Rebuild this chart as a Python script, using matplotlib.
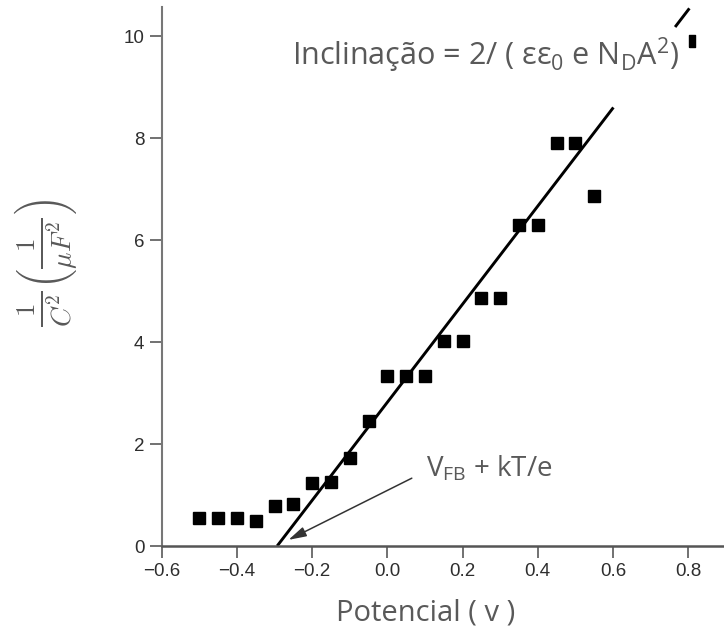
import matplotlib
matplotlib.use("Agg")
import matplotlib.pyplot as plt

plt.rcParams['font.family'] = ['Liberation Sans', 'DejaVu Sans']
plt.rcParams['mathtext.fontset'] = 'custom'
plt.rcParams['mathtext.rm'] = 'Open Sans'
plt.rcParams['mathtext.it'] = 'Open Sans:italic'

# pontos medidos (Mott-Schottky)
potencial = [-0.5, -0.45, -0.4, -0.35, -0.3, -0.25, -0.2, -0.15, -0.1, -0.05,
             0.0, 0.05, 0.1, 0.15, 0.2, 0.25, 0.3, 0.35, 0.4, 0.45, 0.5, 0.55]
inv_c2 = [0.54, 0.54, 0.54, 0.50, 0.79, 0.82, 1.24, 1.26, 1.73, 2.46,
          3.33, 3.33, 3.33, 4.03, 4.03, 4.86, 4.86, 6.29, 6.29, 7.91, 7.91, 6.86]
# ponto cortado no canto superior
extra_x = [0.81]
extra_y = [9.90]

# reta ajustada: y = inclinacao * (x - v_fb)
inclinacao = 9.62
v_fb = -0.293
trechos = [(-0.293, 0.601), (0.765, 0.803)]

x_ticks = [-0.6, -0.4, -0.2, 0.0, 0.2, 0.4, 0.6, 0.8]
y_ticks = [0, 2, 4, 6, 8, 10]

cinza = '#595959'

fig = plt.figure(figsize=(7.24, 6.38), dpi=100)
ax = fig.add_axes([0.2233, 0.1442, 0.7767, 0.8448])

for x0, x1 in trechos:
    ax.plot([x0, x1], [inclinacao * (x0 - v_fb), inclinacao * (x1 - v_fb)],
            color='black', lw=2.1, solid_capstyle='butt', zorder=2)

ax.plot(potencial, inv_c2, 's', color='black', markersize=9.3, zorder=3)
barra = [(-0.42, -1), (0.42, -1), (0.42, 1), (-0.42, 1), (-0.42, -1)]
ax.plot(extra_x, extra_y, marker=barra, color='black', markersize=9, ls='none', zorder=3)

ax.set_xlim(-0.6, 0.895)
ax.set_ylim(0, 10.57)
ax.set_xticks(x_ticks)
ax.set_xticklabels(['\u22120.6', '\u22120.4', '\u22120.2', '0.0', '0.2', '0.4', '0.6', '0.8'])
ax.set_yticks(y_ticks)
ax.tick_params(axis='both', direction='out', length=8.5, width=1.3, colors='#666666',
               labelcolor='#2e2e2e', labelsize=13.5)
ax.tick_params(axis='x', pad=4)
ax.tick_params(axis='y', pad=4)

for s in ['top', 'right']:
    ax.spines[s].set_visible(False)
ax.spines['left'].set_color('#777777')
ax.spines['left'].set_linewidth(1.5)
ax.spines['bottom'].set_color('#555555')
ax.spines['bottom'].set_linewidth(1.8)

ax.text(-0.253, 9.43, 'Inclinação = 2/ ( εε$_\\mathrm{0}$ e N$_\\mathrm{D}$A$^\\mathrm{2}$)',
        ha='left', va='baseline', fontsize=22, color=cinza, family='Open Sans')

ax.annotate('', xy=(-0.263, 0.12), xytext=(0.065, 1.33),
            arrowprops=dict(arrowstyle='-|>,head_length=0.9,head_width=0.25',
                            color='#333333', lw=1.1,
                            mutation_scale=12, shrinkA=0, shrinkB=0))
ax.text(0.102, 1.36, 'V$_\\mathrm{FB}$ + kT/e', ha='left', va='baseline',
        fontsize=20, color=cinza, family='Open Sans')

fig.text(0.588, 0.039, 'Potencial ( v )', ha='center', va='center',
         fontsize=21, color=cinza, family='Open Sans')
fig.text(0.063, 0.588, r'$\frac{1}{C^2}\left(\frac{1}{\mu F^2}\right)$',
         rotation=90, ha='center', va='center', fontsize=28, color=cinza,
         math_fontfamily='cm')

fig.savefig('out.png', dpi=100)
